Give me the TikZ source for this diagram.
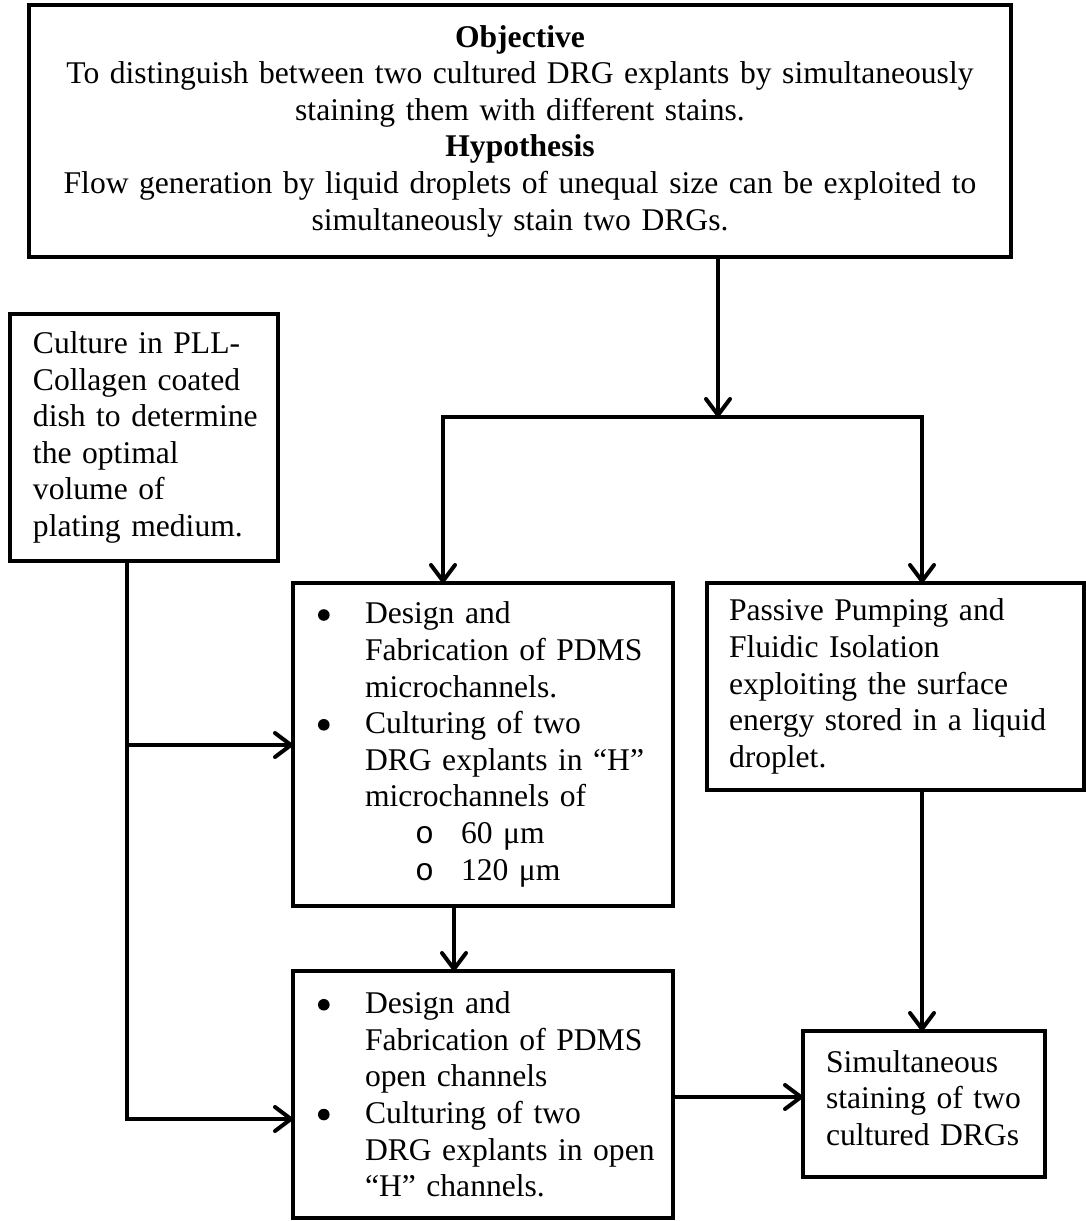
\documentclass[tikz,border=0pt]{standalone}
\usepackage{fontspec}
\setmainfont{Liberation Serif}
\newfontfamily\subbulletfont{Liberation Mono}
\usetikzlibrary{arrows.meta}
\newcommand\bigdot{\makebox[23.5pt][l]{\raisebox{1.6pt}{\tikz\fill[black] (0,0) circle (2.9pt);}}}
\newcommand\subdot{\makebox[23pt][l]{\subbulletfont o}}
\begin{document}
\begin{tikzpicture}[x=0.5pt,y=-0.5pt,
  box/.style={draw, line width=2pt, inner sep=0pt, outer sep=0pt, anchor=north west,
    align=left, font=\fontsize{15.8}{18.3}\selectfont},
  arr/.style={line width=2pt, -{Straight Barb[length=8pt,width=12pt,round]}},
  arrtwo/.style={line width=2pt, {Straight Barb[length=8pt,width=12pt,round]}-{Straight Barb[length=8pt,width=12pt,round]}}]
\useasboundingbox (0,0) rectangle (1086,1221);

\node[box, line width=2.4pt, align=center, text width=491pt, minimum height=126pt] (top) at (29,5)
  {\textbf{Objective}\\
   To distinguish between two cultured DRG explants by simultaneously\\
   staining them with different stains.\\
   \textbf{Hypothesis}\\
   Flow generation by liquid droplets of unequal size can be exploited to\\
   simultaneously stain two DRGs.};

\node[box, text width=134pt, minimum height=123.5pt] (cult) at (10,314)
  {\hspace*{11.5pt}Culture in PLL-\\
   \hspace*{11.5pt}Collagen coated\\
   \hspace*{11.5pt}dish to determine\\
   \hspace*{11.5pt}the optimal\\
   \hspace*{11.5pt}volume of\\
   \hspace*{11.5pt}plating medium.};

\node[box, text width=190pt, minimum height=161.5pt] (mc) at (293,583)
  {\hspace*{12.5pt}\bigdot Design and\\
   \hspace*{36pt}Fabrication of PDMS\\
   \hspace*{36pt}microchannels.\\
   \hspace*{12.5pt}\bigdot Culturing of two\\
   \hspace*{36pt}DRG explants in “H”\\
   \hspace*{36pt}microchannels of\\
   \hspace*{61pt}\subdot 60 μm\\
   \hspace*{61pt}\subdot 120 μm};

\node[box, text width=190pt, minimum height=123.5pt] (oc) at (293,971)
  {\hspace*{12.5pt}\bigdot Design and\\
   \hspace*{36pt}Fabrication of PDMS\\
   \hspace*{36pt}open channels\\
   \hspace*{12.5pt}\bigdot Culturing of two\\
   \hspace*{36pt}DRG explants in open\\
   \hspace*{36pt}“H” channels.};

\node[box, text width=188.5pt, minimum height=103.5pt] (pp) at (707,583)
  {\hspace*{11pt}Passive Pumping and\\
   \hspace*{11pt}Fluidic Isolation\\
   \hspace*{11pt}exploiting the surface\\
   \hspace*{11pt}energy stored in a liquid\\
   \hspace*{11pt}droplet.};

\node[box, text width=121pt, minimum height=73pt] (st) at (803,1031)
  {\hspace*{11.5pt}Simultaneous\\
   \hspace*{11.5pt}staining of two\\
   \hspace*{11.5pt}cultured DRGs\rule[-6pt]{0pt}{6pt}};

% connectors
\coordinate (j) at (718,417);
\coordinate (jl) at (443,417);
\coordinate (jr) at (922,417);
\draw[arr] (top.south -| j) -- (j);
\draw[arrtwo] (mc.north -| jl) -- (jl) -- (jr) -- (pp.north -| jr);

\coordinate (lv) at (127,745);
\coordinate (lw) at (127,1119);
\draw[arr] (cult.south -| lv) -- (lw) -- (lw -| oc.west);
\draw[arr] (lv) -- (lv -| mc.west);

\coordinate (mx) at (454,0);
\draw[arr] (mc.south -| mx) -- (oc.north -| mx);
\draw[arr] (pp.south -| jr) -- (st.north -| jr);

\coordinate (sy) at (0,1097);
\draw[arr] (oc.east |- sy) -- (st.west |- sy);
\end{tikzpicture}
\end{document}
